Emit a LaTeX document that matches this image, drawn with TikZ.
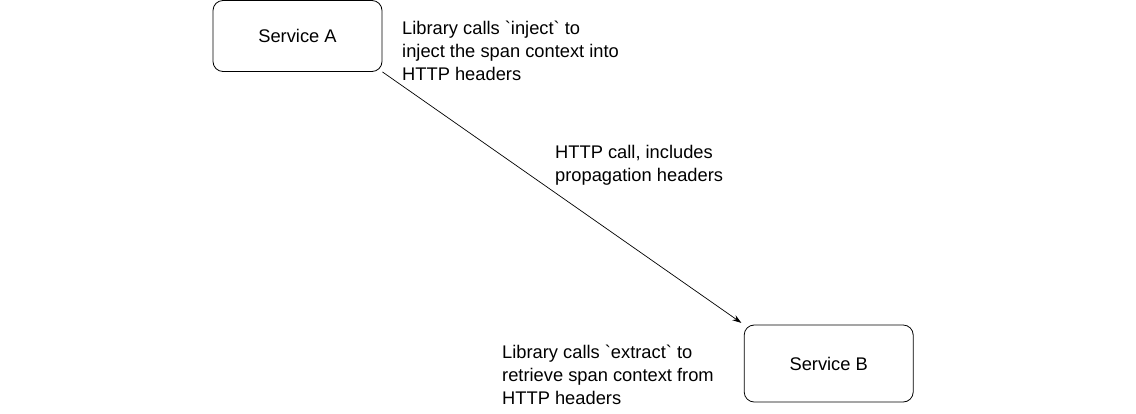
\documentclass[tikz,border=0pt]{standalone}
\usepackage{fontspec}
\setmainfont{Liberation Sans}
\usetikzlibrary{arrows.meta}

\begin{document}
\begin{tikzpicture}[
        x=1pt, y=-1pt,
        >={Stealth[length=9pt,width=6pt]},
        every node/.style={font=\fontsize{18.3pt}{23pt}\selectfont},
        servicebox/.style={
            draw,
            line width=0.8pt,
            rounded corners=10pt,
            inner sep=0pt,
            minimum width=169pt
        },
        notetext/.style={
            align=left,
            anchor=north west,
            inner sep=0pt
        }
    ]
        \useasboundingbox (0,0) rectangle (1136,413);

        \node[servicebox, minimum height=71pt] (servicea) at (297.5,36) {Service A};
        \node[servicebox, minimum height=77pt] (serviceb) at (828.7,363.5) {Service B};

        \node[notetext] (injectnote) at (402,21) {Library calls \textasciigrave inject\textasciigrave{} to\\inject the span context into\\HTTP headers};
        \node[notetext] (callnote) at (555,145) {HTTP call, includes\\propagation headers};
        \node[notetext] (extractnote) at (502,345) {Library calls \textasciigrave extract\textasciigrave{} to\\retrieve span context from\\HTTP headers};

        \draw[->, line width=0.7pt, shorten >=3pt] (servicea.south east) -- (serviceb.north west);
    \end{tikzpicture}
\end{document}
